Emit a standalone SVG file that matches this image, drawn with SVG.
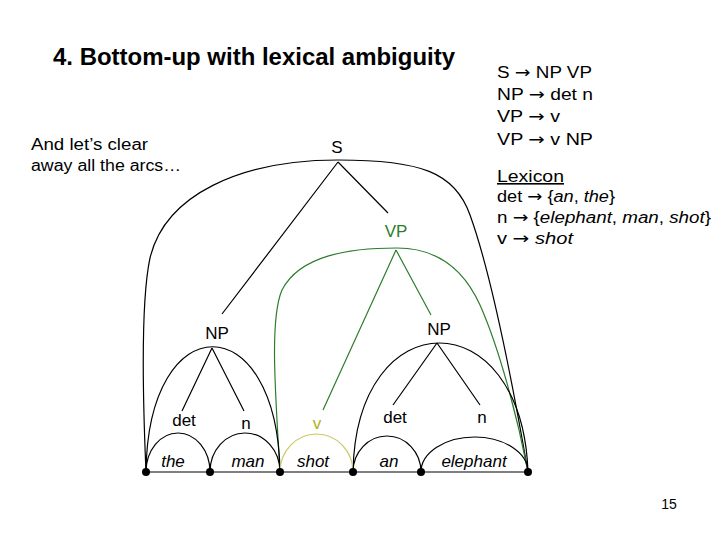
<svg xmlns="http://www.w3.org/2000/svg" width="720" height="540" viewBox="0 0 720 540">
<style>
text{font-family:"Liberation Sans",Arial,sans-serif;fill:#000}
.t{font-size:24px;font-weight:bold}
.b{font-size:16px}
.ar{font-family:"DejaVu Sans",sans-serif;font-size:16px}
.i{font-style:italic}
.lab{font-size:17px;text-anchor:middle}
.w{font-size:17px;font-style:italic;text-anchor:middle}
.k{fill:none;stroke:#000;stroke-width:1.2}
.g{fill:none;stroke:#2d7d2d;stroke-width:1.2}
.y{fill:none;stroke:#c8c860;stroke-width:1.2}
.dot{fill:#000}
</style>
<rect width="720" height="540" fill="#fff"/>
<text class="t" x="53" y="65" textLength="402" lengthAdjust="spacingAndGlyphs">4. Bottom-up with lexical ambiguity</text>
<g id="note">
<text class="b" x="31" y="150" textLength="117" lengthAdjust="spacingAndGlyphs">And let’s clear</text>
<text class="b" x="31" y="171" textLength="150" lengthAdjust="spacingAndGlyphs">away all the arcs…</text>
</g>
<g id="grammar">
<text class="b" x="497" y="78" textLength="95" lengthAdjust="spacingAndGlyphs">S <tspan class="ar">→</tspan> NP VP</text>
<text class="b" x="497" y="100" textLength="96" lengthAdjust="spacingAndGlyphs">NP <tspan class="ar">→</tspan> det n</text>
<text class="b" x="497" y="122" textLength="63" lengthAdjust="spacingAndGlyphs">VP <tspan class="ar">→</tspan> v</text>
<text class="b" x="497" y="145" textLength="96" lengthAdjust="spacingAndGlyphs">VP <tspan class="ar">→</tspan> v NP</text>
<text class="b" x="497" y="182" textLength="67" lengthAdjust="spacingAndGlyphs" text-decoration="underline">Lexicon</text>
<text class="b" x="497" y="202" textLength="118" lengthAdjust="spacingAndGlyphs">det <tspan class="ar">→</tspan> {<tspan class="i">an</tspan>, <tspan class="i">the</tspan>}</text>
<text class="b" x="497" y="223" textLength="214" lengthAdjust="spacingAndGlyphs">n <tspan class="ar">→</tspan> {<tspan class="i">elephant</tspan>, <tspan class="i">man</tspan>, <tspan class="i">shot</tspan>}</text>
<text class="b" x="497" y="244" textLength="76" lengthAdjust="spacingAndGlyphs">v <tspan class="ar">→</tspan> <tspan class="i">shot</tspan></text>
</g>
<g id="connectors">
<path class="k" d="M146,472 L528,472"/>
<path class="k" d="M146,472 C142,380 141,300 150,258 C165,195 240,160 338,160 C420,160 455,172 470,215 C490,270 512,380 528,472"/>
<path class="k" d="M338,162 L222,314 M338,162 L388,213"/>
<path class="g" d="M280,472 C276,400 269,320 282,290 C300,255 350,248 397,248 C440,248 465,272 480,305 C500,350 518,420 528,472"/>
<path class="g" d="M396,250 L323,410 M396,250 L431,315"/>
<path class="k" d="M146,472 C148,305 277,305 280,472"/>
<path class="k" d="M212,348 L182,411 M212,348 L244,411"/>
<path class="k" d="M353,472 C356,300 522,300 528,472"/>
<path class="k" d="M437,343 L393,405 M437,343 L480,405"/>
<path class="k" d="M146,472 A32,39 0 0 1 210,472"/>
<path class="k" d="M210,472 A35,39 0 0 1 280,472"/>
<path class="y" d="M280,472 A36.5,38 0 0 1 353,472"/>
<path class="k" d="M353,472 A34,36 0 0 1 421,472"/>
<path class="k" d="M421,472 A53.5,35 0 0 1 528,472"/>
</g>
<g id="dots">
<circle class="dot" cx="146" cy="472" r="4"/>
<circle class="dot" cx="210" cy="472" r="4"/>
<circle class="dot" cx="280" cy="472" r="4"/>
<circle class="dot" cx="353" cy="472" r="4"/>
<circle class="dot" cx="421" cy="472" r="4"/>
<circle class="dot" cx="528" cy="472" r="4"/>
</g>
<g id="S"><text class="lab" x="337" y="153">S</text></g>
<g id="VP"><text class="lab" x="396" y="237" style="fill:#2d7d2d">VP</text></g>
<g id="NP1"><text class="lab" x="217" y="339">NP</text></g>
<g id="NP2"><text class="lab" x="439" y="335">NP</text></g>
<g id="det1"><text class="lab" x="184" y="426">det</text></g>
<g id="n1"><text class="lab" x="246" y="429">n</text></g>
<g id="v"><text class="lab" x="317" y="429" style="fill:#aab41e">v</text></g>
<g id="det2"><text class="lab" x="395" y="423">det</text></g>
<g id="n2"><text class="lab" x="482" y="423">n</text></g>
<g id="w-the"><text class="w" x="173" y="467">the</text></g>
<g id="w-man"><text class="w" x="248" y="467">man</text></g>
<g id="w-shot"><text class="w" x="313" y="467">shot</text></g>
<g id="w-an"><text class="w" x="389" y="467">an</text></g>
<g id="w-elephant"><text class="w" x="474" y="467">elephant</text></g>
<text x="669" y="509" font-size="14" text-anchor="middle">15</text>
</svg>
